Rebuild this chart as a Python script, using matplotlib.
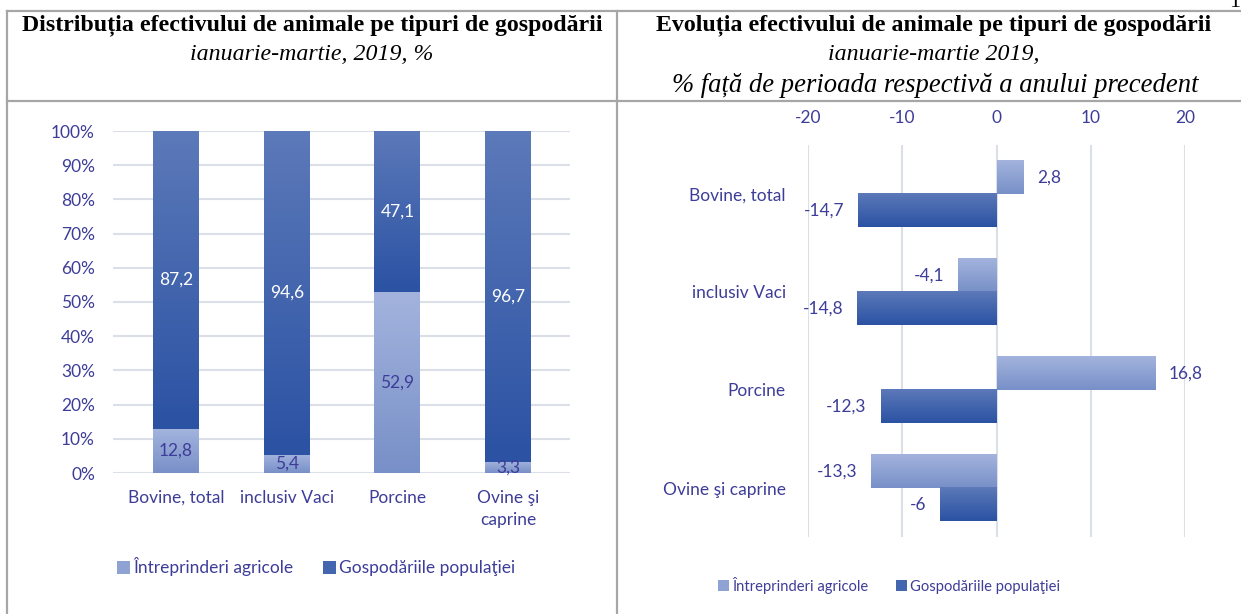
"""Two-panel livestock chart: share by farm type (left) and yearly change (right)."""

import matplotlib

matplotlib.use("Agg")
import matplotlib.pyplot as plt  # noqa: E402
import numpy as np  # noqa: E402
from matplotlib.colors import LinearSegmentedColormap, to_rgb  # noqa: E402
from matplotlib.lines import Line2D  # noqa: E402
from matplotlib.patches import Patch  # noqa: E402
from matplotlib.ticker import PercentFormatter  # noqa: E402

# --- data ---------------------------------------------------------------
categories_left = ["Bovine, total", "inclusiv Vaci", "Porcine", "Ovine şi\ncaprine"]
intreprinderi_share = [12.8, 5.4, 52.9, 3.3]
gospodarii_share = [87.2, 94.6, 47.1, 96.7]

categories_right = ["Bovine, total", "inclusiv Vaci", "Porcine", "Ovine şi caprine"]
intreprinderi_change = [2.8, -4.1, 16.8, -13.3]
gospodarii_change = [-14.7, -14.8, -12.3, -6]

series_names = ["Întreprinderi agricole", "Gospodăriile populaţiei"]

# --- style --------------------------------------------------------------
W, H = 1241, 614
TEXT = "#3d3d99"
GRID = "#dbe0e8"
BORDER = "#a6a6a6"
LIGHT = ("#a3b3dd", "#7890c8")  # top, bottom
DARK = ("#5c79b9", "#2b52a3")
SANS = "Lato"
SERIF = "Liberation Serif"
FS = 12.5

plt.rcParams["font.family"] = [SANS, "DejaVu Sans"]
plt.rcParams["axes.unicode_minus"] = False  # Excel-style hyphen minus


def px_axes(fig, left, top, right, bottom):
    """Add axes placed by pixel edges (origin top-left)."""
    return fig.add_axes([left / W, 1 - bottom / H, (right - left) / W, (bottom - top) / H])


def fill_gradient(ax, bars, colors, top_first=False):
    """Replace flat bar fills with a vertical top->bottom gradient."""
    cmap = LinearSegmentedColormap.from_list("g", [colors[1], colors[0]])
    grad = np.linspace(0, 1, 64).reshape(-1, 1)
    if top_first:
        grad = grad[::-1]
    for b in bars:
        x0, x1 = sorted([b.get_x(), b.get_x() + b.get_width()])
        y0, y1 = sorted([b.get_y(), b.get_y() + b.get_height()])
        ax.imshow(grad, extent=(x0, x1, y0, y1), origin="lower", cmap=cmap,
                  aspect="auto", interpolation="bilinear", zorder=2)
        b.set_facecolor("none")


def fmt(v):
    return f"{v:g}".replace(".", ",")


fig = plt.figure(figsize=(W / 100, H / 100), dpi=100)

# --- table frame --------------------------------------------------------
for xs, ys in [((7, W), (11, 11)), ((7, 7), (11, H)), ((617, 617), (11, H)),
               ((7, W), (101, 101))]:
    fig.add_artist(Line2D([x / W for x in xs], [1 - y / H for y in ys],
                          color=BORDER, lw=1.6))

# --- headers ------------------------------------------------------------
fig.text(312 / W, 1 - 25 / H, "Distribuția efectivului de animale pe tipuri de gospodării",
         ha="center", va="center", family=SERIF, weight="bold", size=17.2)
fig.text(312 / W, 1 - 55 / H, "ianuarie-martie, 2019, %",
         ha="center", va="center", family=SERIF, style="italic", size=17.2)
fig.text(934 / W, 1 - 25 / H, "Evoluția efectivului de animale pe tipuri de gospodării",
         ha="center", va="center", family=SERIF, weight="bold", size=17.2)
fig.text(934 / W, 1 - 55 / H, "ianuarie-martie 2019,",
         ha="center", va="center", family=SERIF, style="italic", size=17.2)
fig.text(935 / W, 1 - 86 / H, "% față de perioada respectivă a anului precedent",
         ha="center", va="center", family=SERIF, style="italic", size=19.2)
fig.text(1235 / W, 1 - 7 / H, "1", ha="center", va="baseline", family=SERIF, size=16)

# --- left: 100% stacked columns ----------------------------------------
ax1 = px_axes(fig, 113, 131, 570, 473)
x = np.arange(len(categories_left))
b1 = ax1.bar(x, intreprinderi_share, width=0.415, edgecolor="none")
b2 = ax1.bar(x, gospodarii_share, width=0.415, bottom=intreprinderi_share, edgecolor="none")
fill_gradient(ax1, b1, LIGHT)
fill_gradient(ax1, b2, DARK)
ax1.bar_label(b1, labels=[fmt(v) for v in intreprinderi_share], label_type="center",
              color=TEXT, fontsize=FS, zorder=3)
ax1.bar_label(b2, labels=[fmt(v) for v in gospodarii_share], label_type="center",
              color="white", fontsize=FS, zorder=3)
ax1.set_xlim(-0.57, 3.56)
ax1.set_ylim(0, 100)
ax1.set_yticks(np.arange(0, 101, 10))
ax1.yaxis.set_major_formatter(PercentFormatter(xmax=100, decimals=0))
ax1.set_xticks(x)
ax1.set_xticklabels(categories_left, linespacing=1.45)
ax1.tick_params(axis="y", length=0, pad=13, labelsize=FS, labelcolor=TEXT)
ax1.tick_params(axis="x", length=0, pad=12, labelsize=FS, labelcolor=TEXT)
ax1.grid(axis="y", color=GRID, lw=1.5)
ax1.set_axisbelow(True)
for s in ax1.spines.values():
    s.set_visible(False)

handles = [Patch(facecolor=np.mean([to_rgb(c) for c in LIGHT], axis=0)),
           Patch(facecolor=np.mean([to_rgb(c) for c in DARK], axis=0))]
fig.legend(handles, series_names, loc="center", bbox_to_anchor=(316 / W, 1 - 567 / H),
           ncol=2, frameon=False, fontsize=FS, labelcolor=TEXT, handlelength=0.75,
           handleheight=0.75, handletextpad=0.2, columnspacing=1.7)

# --- right: horizontal change bars -------------------------------------
ax2 = px_axes(fig, 808, 145, 1185, 537)
y = np.arange(len(categories_right))
h = 0.34
c1 = ax2.barh(y - h / 2, intreprinderi_change, height=h, edgecolor="none")
c2 = ax2.barh(y + h / 2, gospodarii_change, height=h, edgecolor="none")
fill_gradient(ax2, c1, LIGHT, top_first=True)
fill_gradient(ax2, c2, DARK, top_first=True)
ax2.bar_label(c1, labels=[fmt(v) for v in intreprinderi_change], padding=10,
              color=TEXT, fontsize=FS, zorder=3)
ax2.bar_label(c2, labels=[fmt(v) for v in gospodarii_change], padding=10,
              color=TEXT, fontsize=FS, zorder=3)
ax2.set_xlim(-20, 20)
ax2.set_ylim(3.5, -0.5)
ax2.set_xticks(np.arange(-20, 21, 10))
ax2.set_yticks(y)
ax2.set_yticklabels(categories_right)
ax2.xaxis.tick_top()
ax2.tick_params(axis="x", length=0, pad=14, labelsize=FS, labelcolor=TEXT)
ax2.tick_params(axis="y", length=0, pad=16, labelsize=FS, labelcolor=TEXT)
ax2.grid(axis="x", color=GRID, lw=1.5)
ax2.set_axisbelow(True)
for s in ax2.spines.values():
    s.set_visible(False)

fig.legend(handles, series_names, loc="center", bbox_to_anchor=(889 / W, 1 - 585 / H),
           ncol=2, frameon=False, fontsize=10.6, labelcolor=TEXT, handlelength=0.75,
           handleheight=0.75, handletextpad=0.2, columnspacing=1.9)

fig.savefig("out.png", dpi=100, facecolor="white")
plt.close(fig)
